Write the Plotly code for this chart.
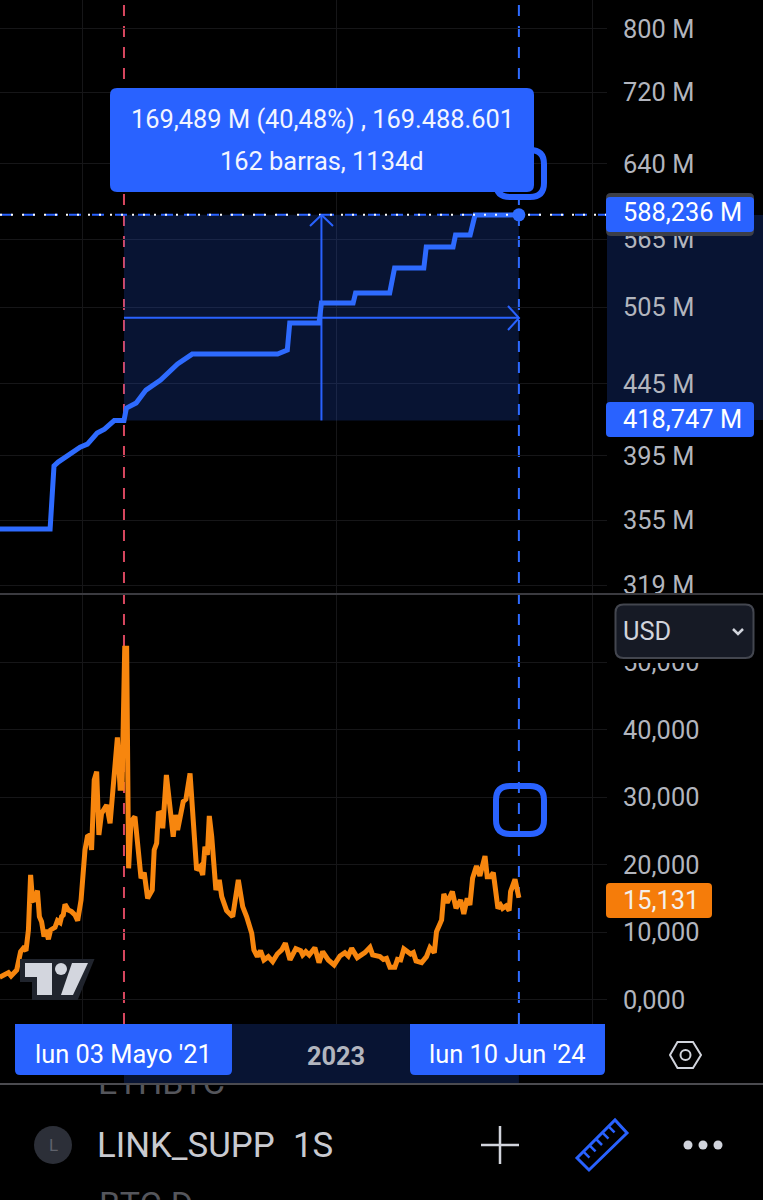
import math
import pandas as pd
import plotly.graph_objects as go

# ---------- data ----------
anchor_date = "2021-05-03"
end_date = "2024-06-10"
view_start = "2020-05-12"
view_end = "2025-02-18"

supply_weeks = [-51, -30.3, -28.7, -27, -24, -18, -15, -11, -8, -4, 0, 1, 5, 9, 15, 22, 28, 63, 67, 68, 80, 81,
                94, 95, 109, 111, 123, 124, 135, 136, 142, 144, 162]
supply_m = [350, 350, 388.4, 390.9, 394.1, 400.7, 402.7, 410.1, 412.8, 418.7, 418.747, 427.4, 431, 440.3, 447.7,
            459.7, 467.3, 467.3, 470.4, 491.9, 491.9, 508.4, 508.4, 516.9, 516.9, 538.7, 538.7, 557.8, 557.8,
            568.9, 568.9, 588.0, 588.236]

price_weeks = [-51, -47.4, -46.3, -44, -42.4, -41.3, -40.2, -39.2, -38.3, -37.5, -36.8, -35.5, -34.7, -33.8, -32.8,
               -32, -31, -30.1, -28.3, -27.3, -26.2, -25.6, -24.9, -24.2, -22.8, -21.5, -20.1, -19, -17.6, -16,
               -15, -13.9, -13.3, -12.2, -11.2, -10.3, -9.2, -7.1, -5.7, -4.4, -2.7, -1.6, -0.8, 0.3, 1.1, 1.9,
               2.9, 4.5, 5.5, 7, 8.3, 9.7, 11.6, 12.4, 13.4, 14.1, 15.2, 15.9, 17.4, 18.9, 20.2, 21.1, 22, 24.3,
               25.4, 27.1, 29.8, 31.2, 32.3, 33.2, 34.2, 35, 36, 37.7, 39.1, 40.1, 42.1, 44.6, 46.9, 48.7, 50.3,
               52.4, 53.3, 54.7, 56, 57.4, 59.2, 61, 62.9, 64.7, 66.2, 68.1, 70.5, 72.5, 73.3, 74.6, 76, 78.3, 80,
               81.5, 83.8, 86.2, 88.6, 90.6, 92, 93.4, 95.7, 98.8, 100.9, 102, 105, 106.4, 107.7, 109.1, 111.1,
               112.2, 113.5, 114.8, 116.6, 117.6, 118.7, 119.8, 122.1, 124.1, 125.5, 127.3, 128.2, 130.3, 131.2,
               132.6, 134.7, 136.2, 138.1, 139.4, 140.8, 141.9, 143, 144.6, 146, 148.1, 149, 150.4, 151.5, 153.4,
               154.5, 155.3, 156.7, 158, 158.6, 160.4, 162]
price_k = [3.36, 4.05, 3.56, 4.44, 7.16, 7.65, 7.31, 10.37, 18.52, 14.72, 14.81, 16.2, 12.35, 11.6, 9.38,
           10.37, 8.99, 10.37, 10.77, 11.75, 11.46, 12.35, 12.59, 14.17, 13.33, 13.09, 12.59, 11.75, 14.81, 22.22,
           24.2, 24.44, 22.22, 32.59, 33.83, 24.44, 27.65, 28.89, 26.17, 32.59, 38.91, 31.36, 31.36, 52.1, 52.1, 19.51,
           26.42, 27.16, 22.72, 18.02, 18.86, 15.06, 16.3, 22.22, 23.21, 27.65, 27.75, 25.43, 33.33, 28.64, 24.2,
           27.41, 25.19, 29.38, 29.73, 33.58, 19.26, 19.75, 18.52, 22.72, 21.48, 27.26, 24.2, 16.3, 17.78, 15.31,
           13.23, 12.35, 17.78, 13.83, 12.35, 9.88, 7.41, 6.42, 7.31, 5.93, 6.42, 5.68, 6.81, 7.41, 8.4, 5.93, 7.6,
           7.31, 6.67, 7.16, 6.67, 7.75, 5.53, 7.16, 5.93, 5.19, 6.52, 7.01, 6.52, 7.65, 6.27, 7.01, 7.8, 6.67, 6.42,
           6.02, 6.17, 4.84, 4.84, 6.02, 5.93, 7.56, 7.01, 6.81, 7.01, 5.78, 5.53, 6.42, 7.75, 7.01, 10.12, 11.85,
           15.7, 14.42, 16.05, 13.58, 14.81, 12.74, 15.06, 14.07, 18.02, 19.85, 18.37, 21.33, 18.27, 18.27, 18.86,
           13.58, 14.07, 13.58, 13.93, 13.23, 16.05, 17.88, 15.131]

supply_ticks = [319, 355, 395, 445, 505, 565, 640, 720, 800]
supply_tick_labels = ["319 M", "355 M", "395 M", "445 M", "505 M", "565 M", "640 M", "720 M", "800 M"]
price_ticks = [0, 10, 20, 30, 40, 50]
price_tick_labels = ["0,000", "10,000", "20,000", "30,000", "40,000", "50,000"]
year_ticks = ["2021-01-04", "2023-01-02", "2025-01-06"]
year_tick_labels = ["", "2023", ""]
measure_low = 418.747
measure_high = 588.236
supply_view = [314.3, 839.1]
price_view = [-3.56, 60]

# ---------- styles ----------
W, H = 763, 1200
LAYOUT_H = 1206
FONT = "Roboto"
BLUE = "#2962ff"
ORANGE = "#f7860e"
GRID = "#161618"
TICK = "#b2b5be"
LIGHT = "#d1d4dc"
SHADE = "rgba(41,98,255,0.2)"
LABEL_SIZE = 25.4


def to_dates(weeks):
    return pd.Timestamp(anchor_date) + pd.to_timedelta(weeks, unit="W")


def fx(x):
    return x / W


def fy(y):
    return 1 - y / H


def poly(points, close=True):
    s = "M " + " L ".join(f"{fx(x):.5f},{fy(y):.5f}" for x, y in points)
    return s + (" Z" if close else "")


def rrect(x0, y0, x1, y1, r=6, tl=True, tr=True, br=True, bl=True):
    def c(on, px, py, ax, ay, bx, by):
        if on:
            return f"L {fx(ax):.5f},{fy(ay):.5f} Q {fx(px):.5f},{fy(py):.5f} {fx(bx):.5f},{fy(by):.5f} "
        return f"L {fx(px):.5f},{fy(py):.5f} "
    s = f"M {fx(x0 + r):.5f},{fy(y0):.5f} "
    s += c(tr, x1, y0, x1 - r, y0, x1, y0 + r)
    s += c(br, x1, y1, x1, y1 - r, x1 - r, y1)
    s += c(bl, x0, y1, x0 + r, y1, x0, y1 - r)
    s += c(tl, x0, y0, x0, y0 + r, x0 + r, y0)
    return s + "Z"


shapes = []
annotations = []


def add_path(path, fill=None, line=None, width=0, layer="above"):
    shapes.append(dict(type="path", path=path, xref="paper", yref="paper", layer=layer,
                       fillcolor=fill or "rgba(0,0,0,0)",
                       line=dict(color=line or "rgba(0,0,0,0)", width=width)))


def add_circle(cx, cy, r, fill=None, line=None, width=0):
    shapes.append(dict(type="circle", xref="paper", yref="paper", layer="above",
                       x0=fx(cx - r), x1=fx(cx + r), y0=fy(cy + r), y1=fy(cy - r),
                       fillcolor=fill or "rgba(0,0,0,0)",
                       line=dict(color=line or "rgba(0,0,0,0)", width=width)))


def add_text(text, x, y, size=LABEL_SIZE, color="#ffffff", anchor="center"):
    annotations.append(dict(text=text, xref="paper", yref="paper", x=fx(x), y=fy(y), xanchor=anchor,
                            yanchor="middle", showarrow=False, font=dict(family=FONT, size=size, color=color),
                            borderpad=0))


supply_dates = to_dates(supply_weeks)
price_dates = to_dates(price_weeks)
mid_date = pd.Timestamp(anchor_date) + (pd.Timestamp(end_date) - pd.Timestamp(anchor_date)) / 2
mid_value = math.sqrt(measure_low * measure_high)

fig = go.Figure()
nohover = dict(hoverinfo="skip", showlegend=False)

# measured range, upper pane
fig.add_trace(go.Scatter(x=[anchor_date, end_date, end_date, anchor_date, anchor_date],
                         y=[measure_low, measure_low, measure_high, measure_high, measure_low],
                         fill="toself", fillcolor=SHADE, mode="none", xaxis="x", yaxis="y", **nohover))
fig.add_trace(go.Scatter(x=[anchor_date, end_date], y=[mid_value, mid_value], mode="lines",
                         line=dict(color=BLUE, width=2), xaxis="x", yaxis="y", **nohover))
fig.add_trace(go.Scatter(x=[mid_date, mid_date], y=[measure_low, measure_high], mode="lines",
                         line=dict(color=BLUE, width=2), xaxis="x", yaxis="y", **nohover))
fig.add_trace(go.Scatter(x=[view_start, view_end], y=[measure_high, measure_high], mode="lines",
                         line=dict(color=BLUE, width=2, dash="12px,11px"), xaxis="x", yaxis="y", **nohover))
# supply and price lines
fig.add_trace(go.Scatter(x=supply_dates, y=supply_m, mode="lines", name="LINK_SUPP",
                         line=dict(color="#2e6bff", width=5), xaxis="x", yaxis="y", **nohover))
fig.add_trace(go.Scatter(x=[view_start, view_end], y=[measure_high, measure_high], mode="lines",
                         line=dict(color="#ffffff", width=2, dash="2px,9px"), xaxis="x", yaxis="y", **nohover))
fig.add_trace(go.Scatter(x=[end_date], y=[measure_high], mode="markers",
                         marker=dict(color="#2e6bff", size=13), xaxis="x", yaxis="y", **nohover))
fig.add_trace(go.Scatter(x=price_dates, y=price_k, mode="lines", name="Price",
                         line=dict(color=ORANGE, width=5), xaxis="x2", yaxis="y2", **nohover))

# vertical measure bounds through both panes
for d, col in ((anchor_date, "#d8475f"), (end_date, "#2e6bff")):
    shapes.append(dict(type="line", xref="x", yref="paper", x0=d, x1=d, y0=fy(1024), y1=1, layer="below",
                       line=dict(color=col, width=2, dash="11px,10px")))

# shaded strips on the value and time scales
add_path(poly([(607, 215), (763, 215), (763, 420), (607, 420)]), fill=SHADE, layer="below")
shapes.append(dict(type="rect", xref="x", yref="paper", x0=anchor_date, x1=end_date, y0=fy(1084), y1=fy(1024),
                   layer="below", fillcolor=SHADE, line=dict(width=0)))

# pane separators
add_path(poly([(0, 594), (763, 594)], close=False), line="#3b3b40", width=2)
add_path(poly([(0, 1084), (763, 1084)], close=False), line="#4b4b50", width=2)

# arrow heads
add_path(poly([(310, 226), (321.5, 215), (333, 226)], close=False), line=BLUE, width=2)
add_path(poly([(508, 306), (519, 318), (508, 330)], close=False), line=BLUE, width=2)

# handles and measure tooltip
add_path(rrect(496, 150, 544, 197, 14), line=BLUE, width=6)
add_path(rrect(496, 786, 544, 834, 14), line=BLUE, width=6)
add_path(rrect(110, 88, 534, 192, 7), fill=BLUE)
add_text("169,489 M (40,48%) , 169.488.601", 322, 119, color="#f2f5ff")
add_text("162 barras, 1134d", 322, 161, color="#f2f5ff")

# price labels
add_path(rrect(606, 193, 754, 236, 5), fill="#3d3f47")
add_path(rrect(606, 197, 754, 232, 4), fill=BLUE)
add_text("588,236 M", 622, 212, anchor="left")
add_path(rrect(606, 402, 754, 437, 4), fill=BLUE)
add_text("418,747 M", 622, 419, anchor="left")
add_path(rrect(606, 883, 712, 918, 4), fill="#f57c0a")
add_text("15,131", 622, 900, color="#f4f0ea", anchor="left")

# currency selector with its black margin over the scale
add_path(poly([(610, 596), (760, 596), (760, 663), (610, 663)]), fill="#000000")
add_path(rrect(615.5, 604.5, 753.5, 658, 8), fill="#161a25", line="#43464f", width=2)
add_text("USD", 622, 631, color=LIGHT, anchor="left")
add_path(poly([(733, 629), (738, 634), (743, 629)], close=False), line=LIGHT, width=2.5)

# date labels
add_path(rrect(15, 1024, 232, 1075, 5, tl=False, tr=False), fill=BLUE)
add_text("lun 03 Mayo '21", 123, 1054)
add_path(rrect(410, 1024, 605, 1075, 5, tl=False, tr=False), fill=BLUE)
add_text("lun 10 Jun '24", 507, 1054)

# logo
logo_edge = "#20242d"
logo_fill = "#d3d6de"
t_bar = [(25, 963), (52, 963), (52, 995), (37, 995), (37, 977), (25, 977)]
slash = [(72, 963), (88, 963), (73, 995), (61, 995)]
add_path(poly([(21, 960), (93, 960), (77, 999), (33, 999), (33, 981), (21, 981)]), fill=logo_edge, line=logo_edge, width=2)
add_path(poly(t_bar), fill=logo_fill)
add_circle(61, 969, 6, fill=logo_fill)
add_path(poly(slash), fill=logo_fill)

# settings hexagon
add_path(poly([(670, 1055), (677.5, 1042), (693, 1042), (701, 1055), (693, 1068), (677.5, 1068)]), line=LIGHT, width=2)
add_circle(685.5, 1055, 5, line=LIGHT, width=2)

# bottom toolbar
add_circle(53, 1145, 19, fill="#2c2f38")
add_text("L", 53, 1145, size=17, color="#5f626c")
add_text("LINK_SUPP", 96, 1145, size=34.8, color="#c9cad0", anchor="left")
add_text("1S", 292, 1145, size=34.8, color="#c9cad0", anchor="left")
add_text("BTC.D", 98, 1204, size=34, color="#55565c", anchor="left")
add_path(poly([(481, 1145), (519, 1145)], close=False), line=LIGHT, width=2.5)
add_path(poly([(500, 1126), (500, 1164)], close=False), line=LIGHT, width=2.5)
add_path(poly([(577, 1158), (589, 1170), (627, 1133), (615, 1120)]), line=BLUE, width=3)
for t in (0.17, 0.33, 0.5, 0.67, 0.83):
    px, py = 577 + 38 * t, 1158 - 38 * t
    add_path(poly([(px, py), (px + 6, py + 6)], close=False), line=BLUE, width=2.5)
for cx in (688, 703, 718):
    add_circle(cx, 1145, 4.5, fill=LIGHT)

# watch-list row cut by the separator: clipped by its own hidden axes
fig.add_trace(go.Scatter(x=[98], y=[1085], mode="text", text=["ETHBTC"], textposition="middle right",
                         textfont=dict(family=FONT, size=34, color="#55565c"), cliponaxis=True,
                         xaxis="x3", yaxis="y3", **nohover))

fig.update_layout(
    width=W, height=LAYOUT_H, margin=dict(l=0, r=0, t=0, b=0), autosize=False,
    paper_bgcolor="#000000", plot_bgcolor="rgba(0,0,0,0)", showlegend=False, hovermode=False,
    font=dict(family=FONT, color=TICK),
    xaxis=dict(domain=[0, 607 / W], range=[view_start, view_end], type="date", anchor="y",
               tickmode="array", tickvals=year_ticks, ticktext=["", "", ""], showgrid=True, gridcolor=GRID,
               gridwidth=1, ticks="", zeroline=False, showline=False),
    yaxis=dict(domain=[fy(594), 1], type="log", range=[math.log10(supply_view[0]), math.log10(supply_view[1])],
               anchor="x", side="right", tickmode="array", tickvals=supply_ticks, ticktext=supply_tick_labels,
               tickfont=dict(family=FONT, size=LABEL_SIZE, color=TICK), showgrid=True, gridcolor=GRID, gridwidth=1,
               ticks="outside", ticklen=10, tickcolor="rgba(0,0,0,0)", zeroline=False, showline=False),
    xaxis2=dict(domain=[0, 607 / W], range=[view_start, view_end], type="date", anchor="y2",
                tickmode="array", tickvals=year_ticks, ticktext=year_tick_labels, showgrid=True, gridcolor=GRID,
                gridwidth=1, ticks="outside", ticklen=10, tickcolor="rgba(0,0,0,0)", zeroline=False, showline=False,
                tickangle=0, tickfont=dict(family=FONT, size=LABEL_SIZE, color=TICK, weight=700)),
    yaxis2=dict(domain=[fy(1024), fy(595)], range=price_view, anchor="x2", side="right",
                tickmode="array", tickvals=price_ticks, ticktext=price_tick_labels,
                tickfont=dict(family=FONT, size=LABEL_SIZE, color=TICK), showgrid=True, gridcolor=GRID, gridwidth=1,
                ticks="outside", ticklen=10, tickcolor="rgba(0,0,0,0)", zeroline=False, showline=False),
    xaxis3=dict(domain=[0, 1], range=[0, W], visible=False, anchor="y3"),
    yaxis3=dict(domain=[0, fy(1085)], range=[H, 1085], visible=False, anchor="x3"),
    shapes=shapes, annotations=annotations,
)

fig.write_html("out.html", config={"displayModeBar": False},
               post_script=("var s=document.createElement('style');"
                            "s.textContent='html,body{margin:0;padding:0;overflow:hidden;background:#000}';"
                            "document.head.appendChild(s);"))
